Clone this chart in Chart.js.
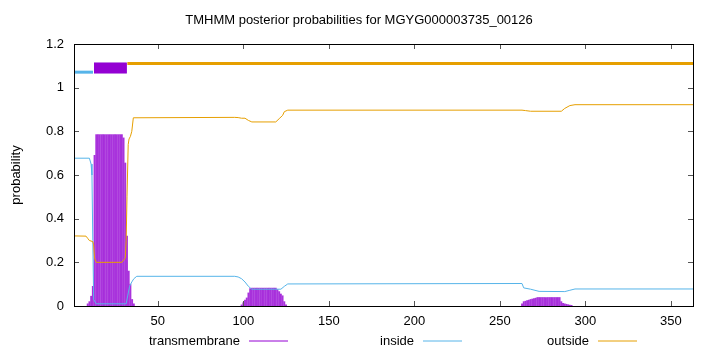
<!DOCTYPE html>
<html>
<head>
<meta charset="utf-8">
<script src="https://cdn.jsdelivr.net/npm/chart.js@4"></script>
<style>
html, body { margin: 0; padding: 0; background: #fff; }
</style>
</head>
<body>
<canvas id="myChart" width="720" height="352"></canvas>
<script>
// dati
const titolo = 'TMHMM posterior probabilities for MGYG000003735_00126';
const xTicks = [50, 100, 150, 200, 250, 300, 350];
const yTicks = [0, 0.2, 0.4, 0.6, 0.8, 1, 1.2];
const seqLen = 363;

// transmembrane (impulsi), un segmento per blocco di residui consecutivi
const tmStarts = [9, 99, 263];
const tmValues = [
  [0.01, 0.02, 0.045, 0.09, 0.69,
   0.785, 0.785, 0.785, 0.785, 0.785, 0.785, 0.785, 0.785,
   0.785, 0.785, 0.785, 0.785, 0.785, 0.785, 0.785, 0.785,
   0.77, 0.655, 0.32, 0.16, 0.10, 0.03, 0.01],
  [0.005, 0.015, 0.027, 0.037, 0.06, 0.08,
   0.082, 0.082, 0.082, 0.082, 0.082, 0.082, 0.082, 0.082,
   0.082, 0.082, 0.082, 0.082, 0.082, 0.082, 0.082,
   0.075, 0.066, 0.055, 0.047, 0.02, 0.005],
  [0.01, 0.02, 0.022, 0.025, 0.027, 0.03, 0.032, 0.034, 0.036,
   0.039, 0.039, 0.039, 0.039, 0.039, 0.039, 0.039,
   0.039, 0.039, 0.039, 0.039, 0.039, 0.039, 0.039,
   0.02, 0.012, 0.01, 0.008, 0.006, 0.004, 0.003]
];

// inside
const insideX = [1, 10, 11, 11.5, 12, 12.5, 14, 31.5, 32.5, 33.5, 34.8, 36, 37.7,
  95, 97, 99, 101, 103, 105, 122, 124, 126, 263, 264, 268, 273, 288, 291, 294, 363];
const insideY = [0.677, 0.677, 0.65, 0.6, 0.3, 0.03, 0.01, 0.01, 0.05, 0.09, 0.11, 0.125, 0.136,
  0.136, 0.133, 0.125, 0.11, 0.09, 0.077, 0.077, 0.09, 0.101, 0.103, 0.083, 0.077, 0.067, 0.066, 0.072, 0.078, 0.078];

// outside
const outsideX = [1, 8, 9, 10, 12, 12.5, 13, 14, 29, 30, 31, 31.5, 32, 32.7, 33.2, 34, 34.8, 35.7,
  95, 97, 99, 101, 103, 105, 119, 121, 123, 124, 126, 263, 265, 268, 286, 288, 291, 294, 363];
const outsideY = [0.321, 0.32, 0.31, 0.3, 0.295, 0.28, 0.22, 0.2, 0.2, 0.21, 0.22, 0.3, 0.5, 0.74, 0.765, 0.777, 0.8, 0.862,
  0.864, 0.863, 0.86, 0.86, 0.85, 0.843, 0.843, 0.858, 0.873, 0.89, 0.897, 0.897, 0.895, 0.892, 0.892, 0.905, 0.918, 0.922, 0.922];

// barre in alto: regioni previste
const regInside = [1, 12.1];
const regTm = [12.7, 31.9];
const regOutside = [32.2, 363];
const regInsideY = 1.071;
const regTmY = 1.09;
const regOutsideY = 1.111;

const viola = '#9400D3';
const azzurro = '#56B4E9';
const arancio = '#E69F00';
const font = '"Liberation Sans", Arial, sans-serif';

function punti(xs, ys) {
  return xs.map((x, i) => ({ x: x, y: ys[i] }));
}

let tmData = [];
tmStarts.forEach((s, k) => {
  tmValues[k].forEach((v, i) => tmData.push({ x: s + i, y: v }));
});

function linea(xs, y) {
  return xs.map(x => ({ x: x, y: y }));
}

// titolo, etichetta y, cornice con tacche, legenda
const decorazioni = {
  id: 'decorazioni',
  afterDraw(chart) {
    const ctx = chart.ctx;
    const a = chart.chartArea;
    const sx = chart.scales.x;
    const sy = chart.scales.y;
    ctx.save();

    ctx.strokeStyle = '#555';
    ctx.lineWidth = 1;
    ctx.beginPath();
    for (const v of xTicks) {
      const p = Math.round(sx.getPixelForValue(v)) + 0.5;
      ctx.moveTo(p, a.bottom); ctx.lineTo(p, a.bottom - 5);
      ctx.moveTo(p, a.top); ctx.lineTo(p, a.top + 5);
    }
    for (const v of yTicks) {
      const p = Math.round(sy.getPixelForValue(v)) + 0.5;
      ctx.moveTo(a.left, p); ctx.lineTo(a.left + 5, p);
      ctx.moveTo(a.right, p); ctx.lineTo(a.right - 5, p);
    }
    ctx.stroke();

    ctx.strokeStyle = '#000';
    ctx.strokeRect(Math.round(a.left) + 0.5, Math.round(a.top) + 0.5,
      Math.round(a.right - a.left), Math.round(a.bottom - a.top));

    ctx.fillStyle = '#000';
    ctx.font = '13px ' + font;
    ctx.textAlign = 'center';
    ctx.textBaseline = 'middle';
    ctx.fillText(titolo, 359, 20);

    ctx.save();
    ctx.translate(16, 175);
    ctx.rotate(-Math.PI / 2);
    ctx.fillText('probability', 0, 0);
    ctx.restore();

    const voci = [
      ['transmembrane', viola, 240],
      ['inside', azzurro, 414],
      ['outside', arancio, 589]
    ];
    ctx.textAlign = 'right';
    for (const [testo, col, xe] of voci) {
      ctx.fillStyle = '#000';
      ctx.fillText(testo, xe, 341);
      ctx.strokeStyle = col;
      ctx.beginPath();
      ctx.moveTo(xe + 9, 341);
      ctx.lineTo(xe + 48, 341);
      ctx.stroke();
    }
    ctx.restore();
  }
};

const ctx = document.getElementById('myChart');

new Chart(ctx, {
  type: 'bar',
  data: {
    datasets: [
      {
        type: 'line', label: 'outside', data: punti(outsideX, outsideY),
        borderColor: arancio, borderWidth: 1, pointRadius: 0, tension: 0, order: 1
      },
      {
        type: 'line', label: 'inside', data: punti(insideX, insideY),
        borderColor: azzurro, borderWidth: 1, pointRadius: 0, tension: 0, order: 2
      },
      {
        label: 'transmembrane', data: tmData,
        backgroundColor: 'rgba(148,0,211,0.8)', barThickness: 1.2, order: 3
      },
      {
        type: 'line', label: 'reg-in', data: linea(regInside, regInsideY),
        borderColor: azzurro, borderWidth: 3, borderCapStyle: 'butt', pointRadius: 0, order: 4
      },
      {
        type: 'line', label: 'reg-tm', data: linea(regTm, regTmY),
        borderColor: viola, borderWidth: 10, borderCapStyle: 'butt', pointRadius: 0, order: 4
      },
      {
        type: 'line', label: 'reg-tm-bordo', data: linea(regTm, regTmY),
        borderColor: '#c27be6', borderWidth: 12, borderCapStyle: 'butt', pointRadius: 0, order: 5
      },
      {
        type: 'line', label: 'reg-out', data: linea(regOutside, regOutsideY),
        borderColor: arancio, borderWidth: 3, borderCapStyle: 'butt', pointRadius: 0, order: 4
      }
    ]
  },
  options: {
    responsive: false,
    animation: false,
    devicePixelRatio: 1,
    layout: { padding: { top: 44, right: 27, left: 0, bottom: 0 } },
    plugins: {
      legend: { display: false },
      tooltip: { enabled: false },
      title: { display: false }
    },
    scales: {
      x: {
        type: 'linear',
        min: 1,
        max: seqLen,
        offset: false,
        grid: { display: false, drawTicks: false },
        border: { display: false },
        afterBuildTicks: s => { s.ticks = xTicks.map(v => ({ value: v })); },
        afterFit: s => { s.height = 46; },
        ticks: {
          padding: 8,
          maxRotation: 0,
          color: '#000',
          font: { family: font, size: 13 },
          callback: v => String(v)
        }
      },
      y: {
        min: 0,
        max: 1.2,
        grid: { display: false, drawTicks: false },
        border: { display: false },
        afterBuildTicks: s => { s.ticks = yTicks.map(v => ({ value: v })); },
        afterFit: s => { s.width = 74; },
        ticks: {
          padding: 10,
          color: '#000',
          font: { family: font, size: 13 },
          callback: v => String(v)
        }
      }
    }
  },
  plugins: [decorazioni]
});
</script>
</body>
</html>
